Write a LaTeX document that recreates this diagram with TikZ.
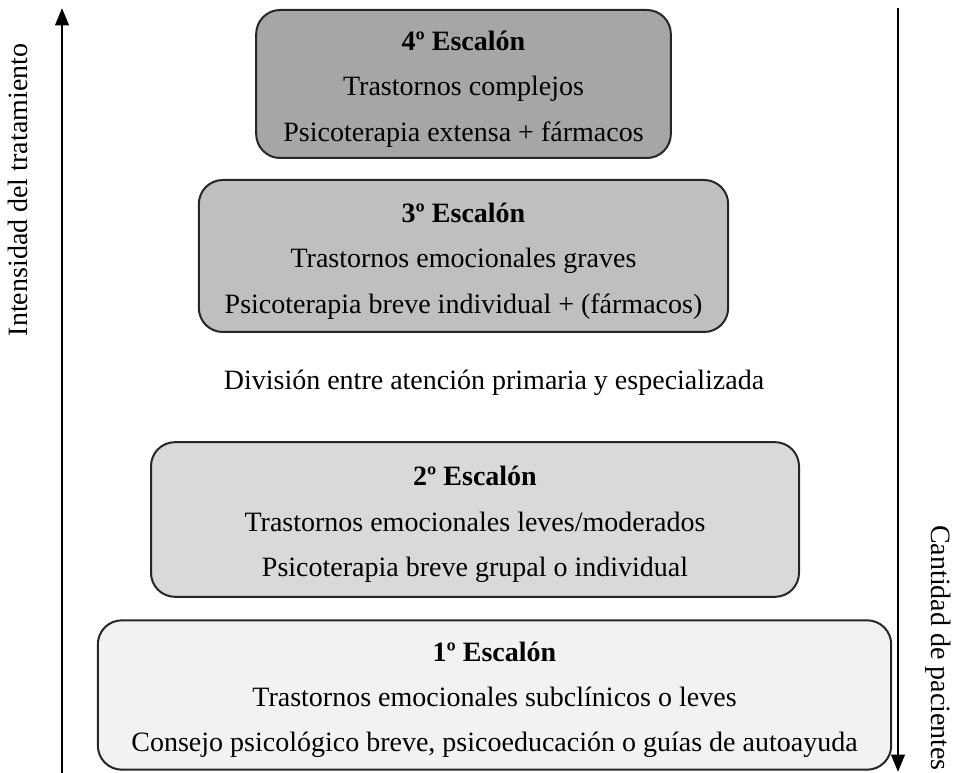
\documentclass[tikz,border=0pt]{standalone}
\usepackage{fontspec}
\setmainfont{Liberation Serif}
\usepackage{tikz}
\usetikzlibrary{positioning,arrows.meta}

\newcommand{\titEsc}[1]{\rule{0pt}{22pt}\textbf{#1}}

\tikzset{
    escalon/.style={draw=black!85, line width=1.5pt, rounded corners=18pt, align=center,
        font=\fontsize{21}{34}\selectfont, inner sep=0pt},
    eje/.style={line width=2.2pt, -{Triangle[length=13pt,width=10pt]}},
}

\begin{document}
\begin{tikzpicture}[x=0.75pt, y=-0.75pt]
    \useasboundingbox (0,0) rectangle (954,773);

    \node[escalon, fill=black!35, minimum width=311pt, minimum height=111pt] (e4) at (463.5,84)
        {\titEsc{4º Escalón}\\Trastornos complejos\\Psicoterapia extensa + fármacos};
    \node[escalon, fill=black!25, minimum width=397pt, minimum height=114pt] (e3) at (463.5,256)
        {\titEsc{3º Escalón}\\Trastornos emocionales graves\\Psicoterapia breve individual + (fármacos)};
    \node[font=\fontsize{21}{34}\selectfont] (division) at (494,383)
        {División entre atención primaria y especializada};
    \node[escalon, fill=black!15, minimum width=486pt, minimum height=116pt] (e2) at (475,519.5)
        {\titEsc{2º Escalón}\\Trastornos emocionales leves/moderados\\Psicoterapia breve grupal o individual};
    \node[escalon, fill=black!5, minimum width=595pt, minimum height=112pt] (e1) at (494.5,695)
        {\titEsc{1º Escalón}\\Trastornos emocionales subclínicos o leves\\Consejo psicológico breve, psicoeducación o guías de autoayuda};

    % ejes laterales
    \coordinate (intBot) at (62,773);
    \coordinate (intTop) at (62,8);
    \coordinate (cantTop) at (898,8);
    \coordinate (cantBot) at (898,772);
    \draw[eje] (intBot) -- (intTop);
    \draw[eje] (cantTop) -- (cantBot);

    \node[rotate=90, font=\fontsize{21}{24}\selectfont] (intLabel) at (18,190) {Intensidad del tratamiento};
    \node[rotate=-90, font=\fontsize{21}{24}\selectfont] (cantLabel) at (938,648) {Cantidad de pacientes};
\end{tikzpicture}
\end{document}
